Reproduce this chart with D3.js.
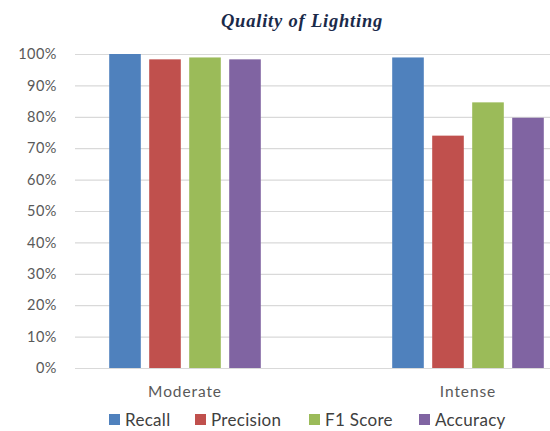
<!DOCTYPE html>
<meta charset="utf-8">
<style>
body { margin: 0; background: #fff; }
svg text { font-family: "Lato", "Open Sans", sans-serif; }
</style>
<svg width="550" height="431"></svg>
<script src="https://cdn.jsdelivr.net/npm/d3@7"></script>
<script>
var categories = ["Moderate", "Intense"]
var series = ["Recall", "Precision", "F1 Score", "Accuracy"]
var colors = ["#4F81BD", "#C0504D", "#9BBB59", "#8064A2"]
// values in %, one array per series, ordered like categories
var recall    = [100, 98.9]
var precision = [98.3, 74.0]
var f1score   = [98.9, 84.6]
var accuracy  = [98.3, 79.7]
var yTicks = [0, 10, 20, 30, 40, 50, 60, 70, 80, 90, 100]

var values = [recall, precision, f1score, accuracy]

var svg = d3.select("svg")

var plotLeft = 75, plotRight = 550, plotTop = 54, plotBottom = 368

var y = d3.scaleLinear().domain([0, 100]).range([plotBottom, plotTop])

// group centres
var x = d3.scalePoint().domain(categories).range([185, 468])
var xs = d3.scaleBand().domain(series).range([-80, 80]).paddingInner(0.21).paddingOuter(0.105)

// gridlines
svg.append("g")
  .selectAll("line")
  .data(yTicks)
  .enter().append("line")
    .attr("x1", plotLeft)
    .attr("x2", plotRight)
    .attr("y1", function(d){ return y(d) + 0.5 })
    .attr("y2", function(d){ return y(d) + 0.5 })
    .attr("stroke", "#d9d9d9")
    .attr("stroke-width", 1.2)

// y axis labels
var yAxis = d3.axisLeft(y).tickValues(yTicks).tickSize(0).tickPadding(0)
  .tickFormat(function(d){ return d + "%" })
var ya = svg.append("g").attr("transform", "translate(57,0)").call(yAxis)
ya.select(".domain").remove()
ya.selectAll("text")
  .attr("fill", "#595959")
  .style("font-size", "14.5px")
  .style("letter-spacing", "0.5px")

// bars
var groups = svg.append("g")
  .selectAll("g")
  .data(categories)
  .enter().append("g")
    .attr("transform", function(d){ return "translate(" + x(d) + ",0)" })

groups.selectAll("rect")
  .data(function(c, ci){ return series.map(function(s, si){ return {s: s, si: si, v: values[si][ci]} }) })
  .enter().append("rect")
    .attr("x", function(d){ return xs(d.s) })
    .attr("width", xs.bandwidth())
    .attr("y", function(d){ return y(d.v) })
    .attr("height", function(d){ return y(0) - y(d.v) })
    .attr("fill", function(d){ return colors[d.si] })

// category labels
svg.append("g")
  .selectAll("text")
  .data(categories)
  .enter().append("text")
    .attr("x", function(d){ return x(d) })
    .attr("y", 397)
    .attr("text-anchor", "middle")
    .attr("fill", "#595959")
    .style("font-size", "15.5px")
    .style("letter-spacing", "0.9px")
    .text(function(d){ return d })

// title
svg.append("text")
  .attr("x", 302)
  .attr("y", 27)
  .attr("text-anchor", "middle")
  .attr("fill", "#1a2a4a")
  .style("font-family", "'Liberation Serif', serif")
  .style("font-style", "italic")
  .style("font-weight", "bold")
  .style("font-size", "18.5px")
  .style("letter-spacing", "0.8px")
  .text("Quality of Lighting")

// legend
var legendX = [109, 195, 309, 419]
var legend = svg.append("g")
  .selectAll("g")
  .data(series)
  .enter().append("g")
    .attr("transform", function(d, i){ return "translate(" + legendX[i] + ",414)" })
legend.append("rect")
  .attr("width", 11)
  .attr("height", 11)
  .attr("fill", function(d, i){ return colors[i] })
legend.append("text")
  .attr("x", 16)
  .attr("y", 11.5)
  .attr("fill", "#404040")
  .style("font-size", "17px")
  .style("letter-spacing", "0.3px")
  .text(function(d){ return d })
</script>
